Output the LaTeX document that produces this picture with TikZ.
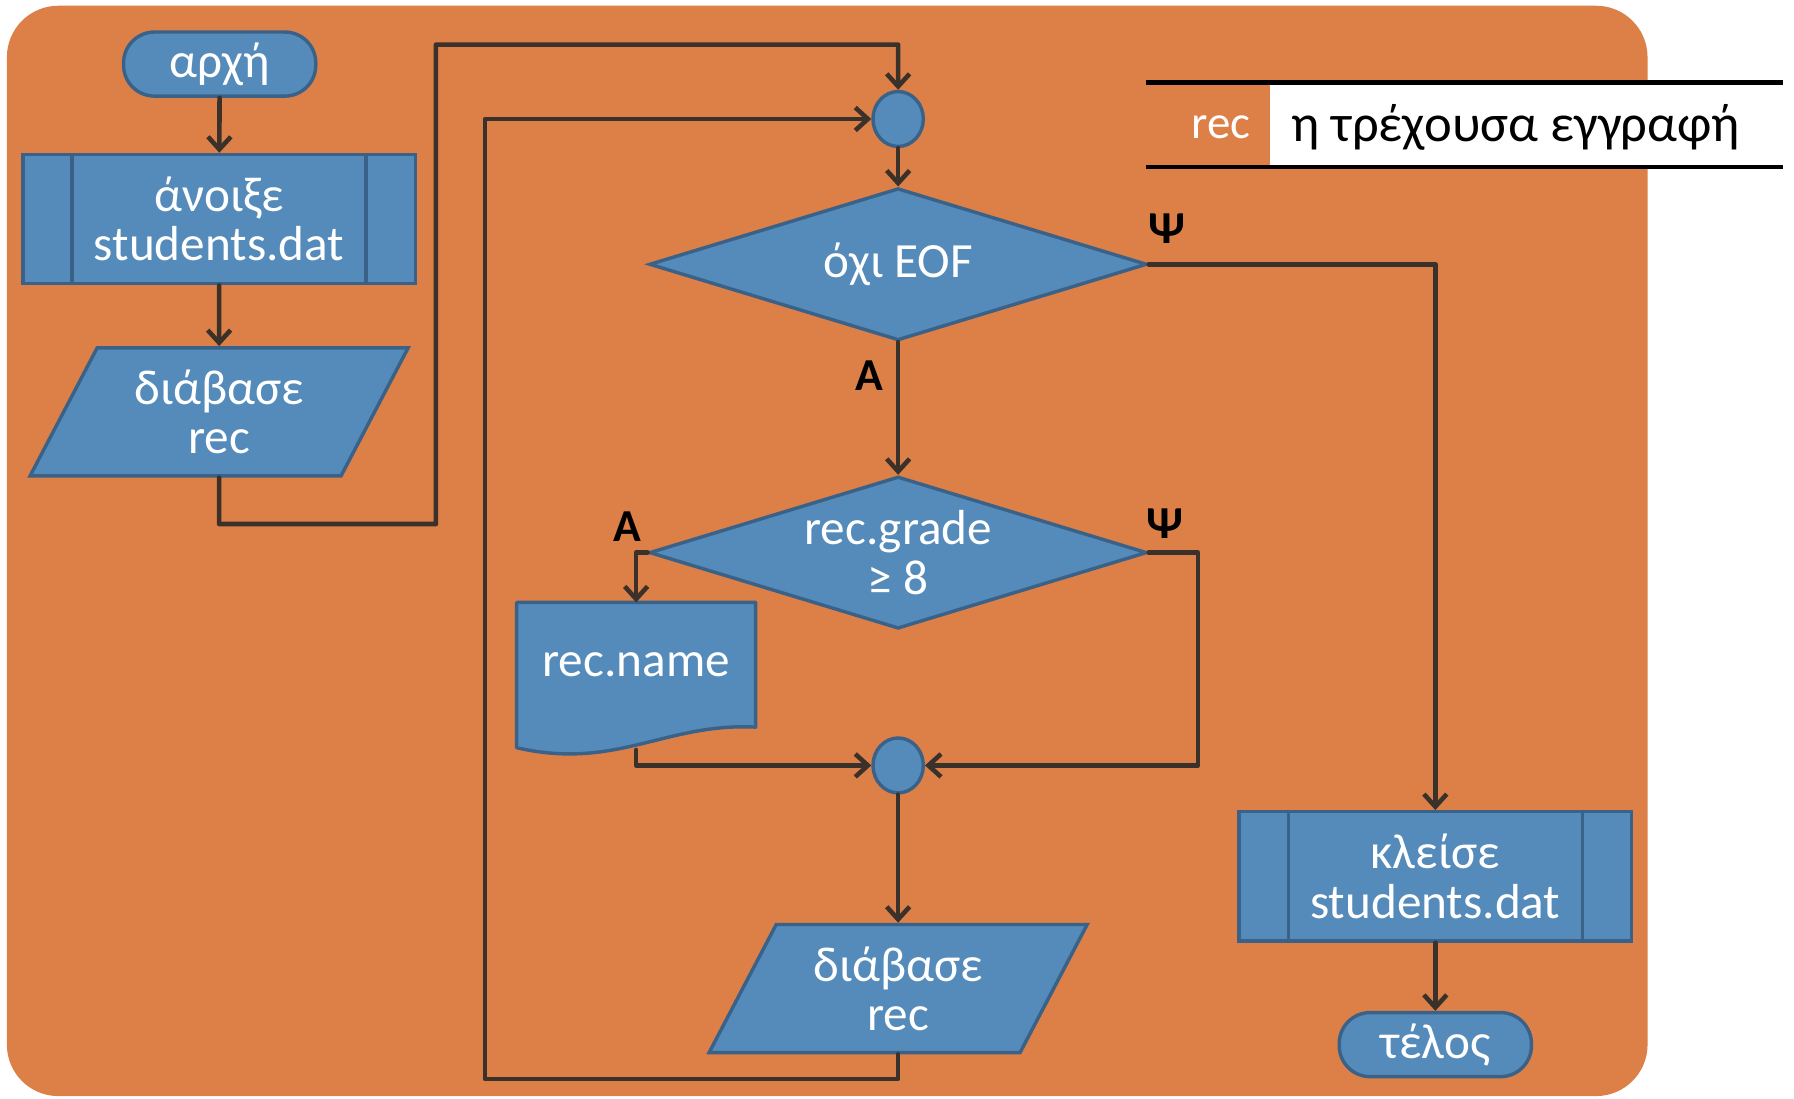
\documentclass[tikz,border=0pt]{standalone}
\usepackage{fontspec}
\setmainfont{Carlito}
\usetikzlibrary{arrows.meta, shapes.geometric, calc, positioning, backgrounds}

\definecolor{bgorange}{RGB}{220,128,72}
\definecolor{boxblue}{RGB}{85,139,186}
\definecolor{boxedge}{RGB}{58,98,136}
\definecolor{wire}{RGB}{59,49,43}

\tikzset{
  blk/.style={fill=boxblue, draw=boxedge, line width=3pt, text=white, align=center,
    font=\fontsize{43pt}{43pt}\selectfont, inner sep=0pt},
  term/.style={blk, rectangle, rounded corners=27pt, minimum width=168pt, minimum height=56pt},
  sub/.style={blk, rectangle, minimum width=343pt, minimum height=113pt,
    path picture={\draw[boxedge, line width=3pt]
      ([xshift=43pt]path picture bounding box.north west) -- ([xshift=43pt]path picture bounding box.south west)
      ([xshift=-43pt]path picture bounding box.north east) -- ([xshift=-43pt]path picture bounding box.south east);}},
  io/.style={blk, trapezium, trapezium left angle=61, trapezium right angle=119,
    trapezium stretches=true, minimum width=331pt, minimum height=112pt},
  cond/.style={blk, diamond, shape aspect=3.27, minimum width=435pt, minimum height=133pt},
  joint/.style={blk, ellipse, minimum width=44pt, minimum height=48pt},
  docu/.style={blk, draw=none, fill=none, rectangle, minimum width=206pt, minimum height=106pt},
  lab/.style={text=black, font=\bfseries\fontsize{40pt}{40pt}\selectfont, inner sep=0pt},
  flow/.style={draw=wire, line width=4pt, line cap=round, line join=round, ->}
}

\begin{document}
\begin{tikzpicture}[x=1pt, y=-1pt, >={Straight Barb[length=11pt,width=20pt]}]
    \useasboundingbox (0,0) rectangle (1568,960);
    \node[term] (start) at (192,56) {αρχή};
    \node[sub] (open) at (191.5,191.5) {άνοιξε\\students.dat};
    \node[io] (read) at (191.5,360) {διάβασε\\rec};
    \node[joint] (join1) at (785,104) {};
    \node[cond] (eof) at (785,231) {όχι EOF};
    \node[cond] (grade) at (785,483) {rec.grade\\≥ 8};
    \node[docu] (show) at (556,581) {rec.name};
    \node[joint] (join2) at (785,669) {};
    \node[io] (read2) at (785,864) {διάβασε\\rec};
    \node[sub] (close) at (1254.5,766) {κλείσε\\students.dat};
    \node[term] (stop) at (1254.5,913) {τέλος};

    \node[lab] (yes1) at (760,328) {Α};
    \node[lab] (no1) at (1020,200) {Ψ};
    \node[lab] (yes2) at (548,460) {Α};
    \node[lab] (no2) at (1018,458) {Ψ};

    \fill[white] (1110,74) rectangle (1558,144);
    \draw[black, line width=4pt] (1002,72) -- (1558,72) (1002,146) -- (1558,146);
    \node[text=white, font=\fontsize{41pt}{41pt}\selectfont] (reckey) at (1067,111) {rec};
    \node[text=black, font=\fontsize{46pt}{46pt}\selectfont] (recdesc) at (1325,111) {η τρέχουσα εγγραφή};

    \coordinate (loopa) at (191.5,458);
    \coordinate (loopb) at (381,39);
    \coordinate (loopc) at (424,943);

    \draw[flow] (start) -- (open);
    \draw[flow] (open) -- (read);
    \draw[flow] (read.south) -- (loopa) -| (loopb) -| (join1.north);
    \draw[flow] (join1) -- (eof);
    \draw[flow] (eof) -- (grade);
    \draw[flow] (eof.east) -| (close);
    \draw[flow] (close) -- (stop);
    \draw[flow] (grade.west) -| (show.north);
    \draw[flow] (grade.east) -- ++(43,0) |- (join2.east);
    \draw[flow] ([yshift=-20pt]show.south) |- (join2.west);
    \draw[flow] (join2) -- (read2);
    \draw[flow] (read2.south) |- (loopc) |- (join1.west);

    \begin{scope}[on background layer]
      \fill[bgorange, rounded corners=45pt] (6,5) rectangle (1440,958);
      \filldraw[fill=boxblue, draw=boxedge, line width=3pt, line join=round]
        (show.north west) -- (show.north east) -- (show.south east)
        .. controls +(-79,-4) and +(87,20) .. ([yshift=-18pt]show.south west) -- cycle;
    \end{scope}
\end{tikzpicture}
\end{document}
